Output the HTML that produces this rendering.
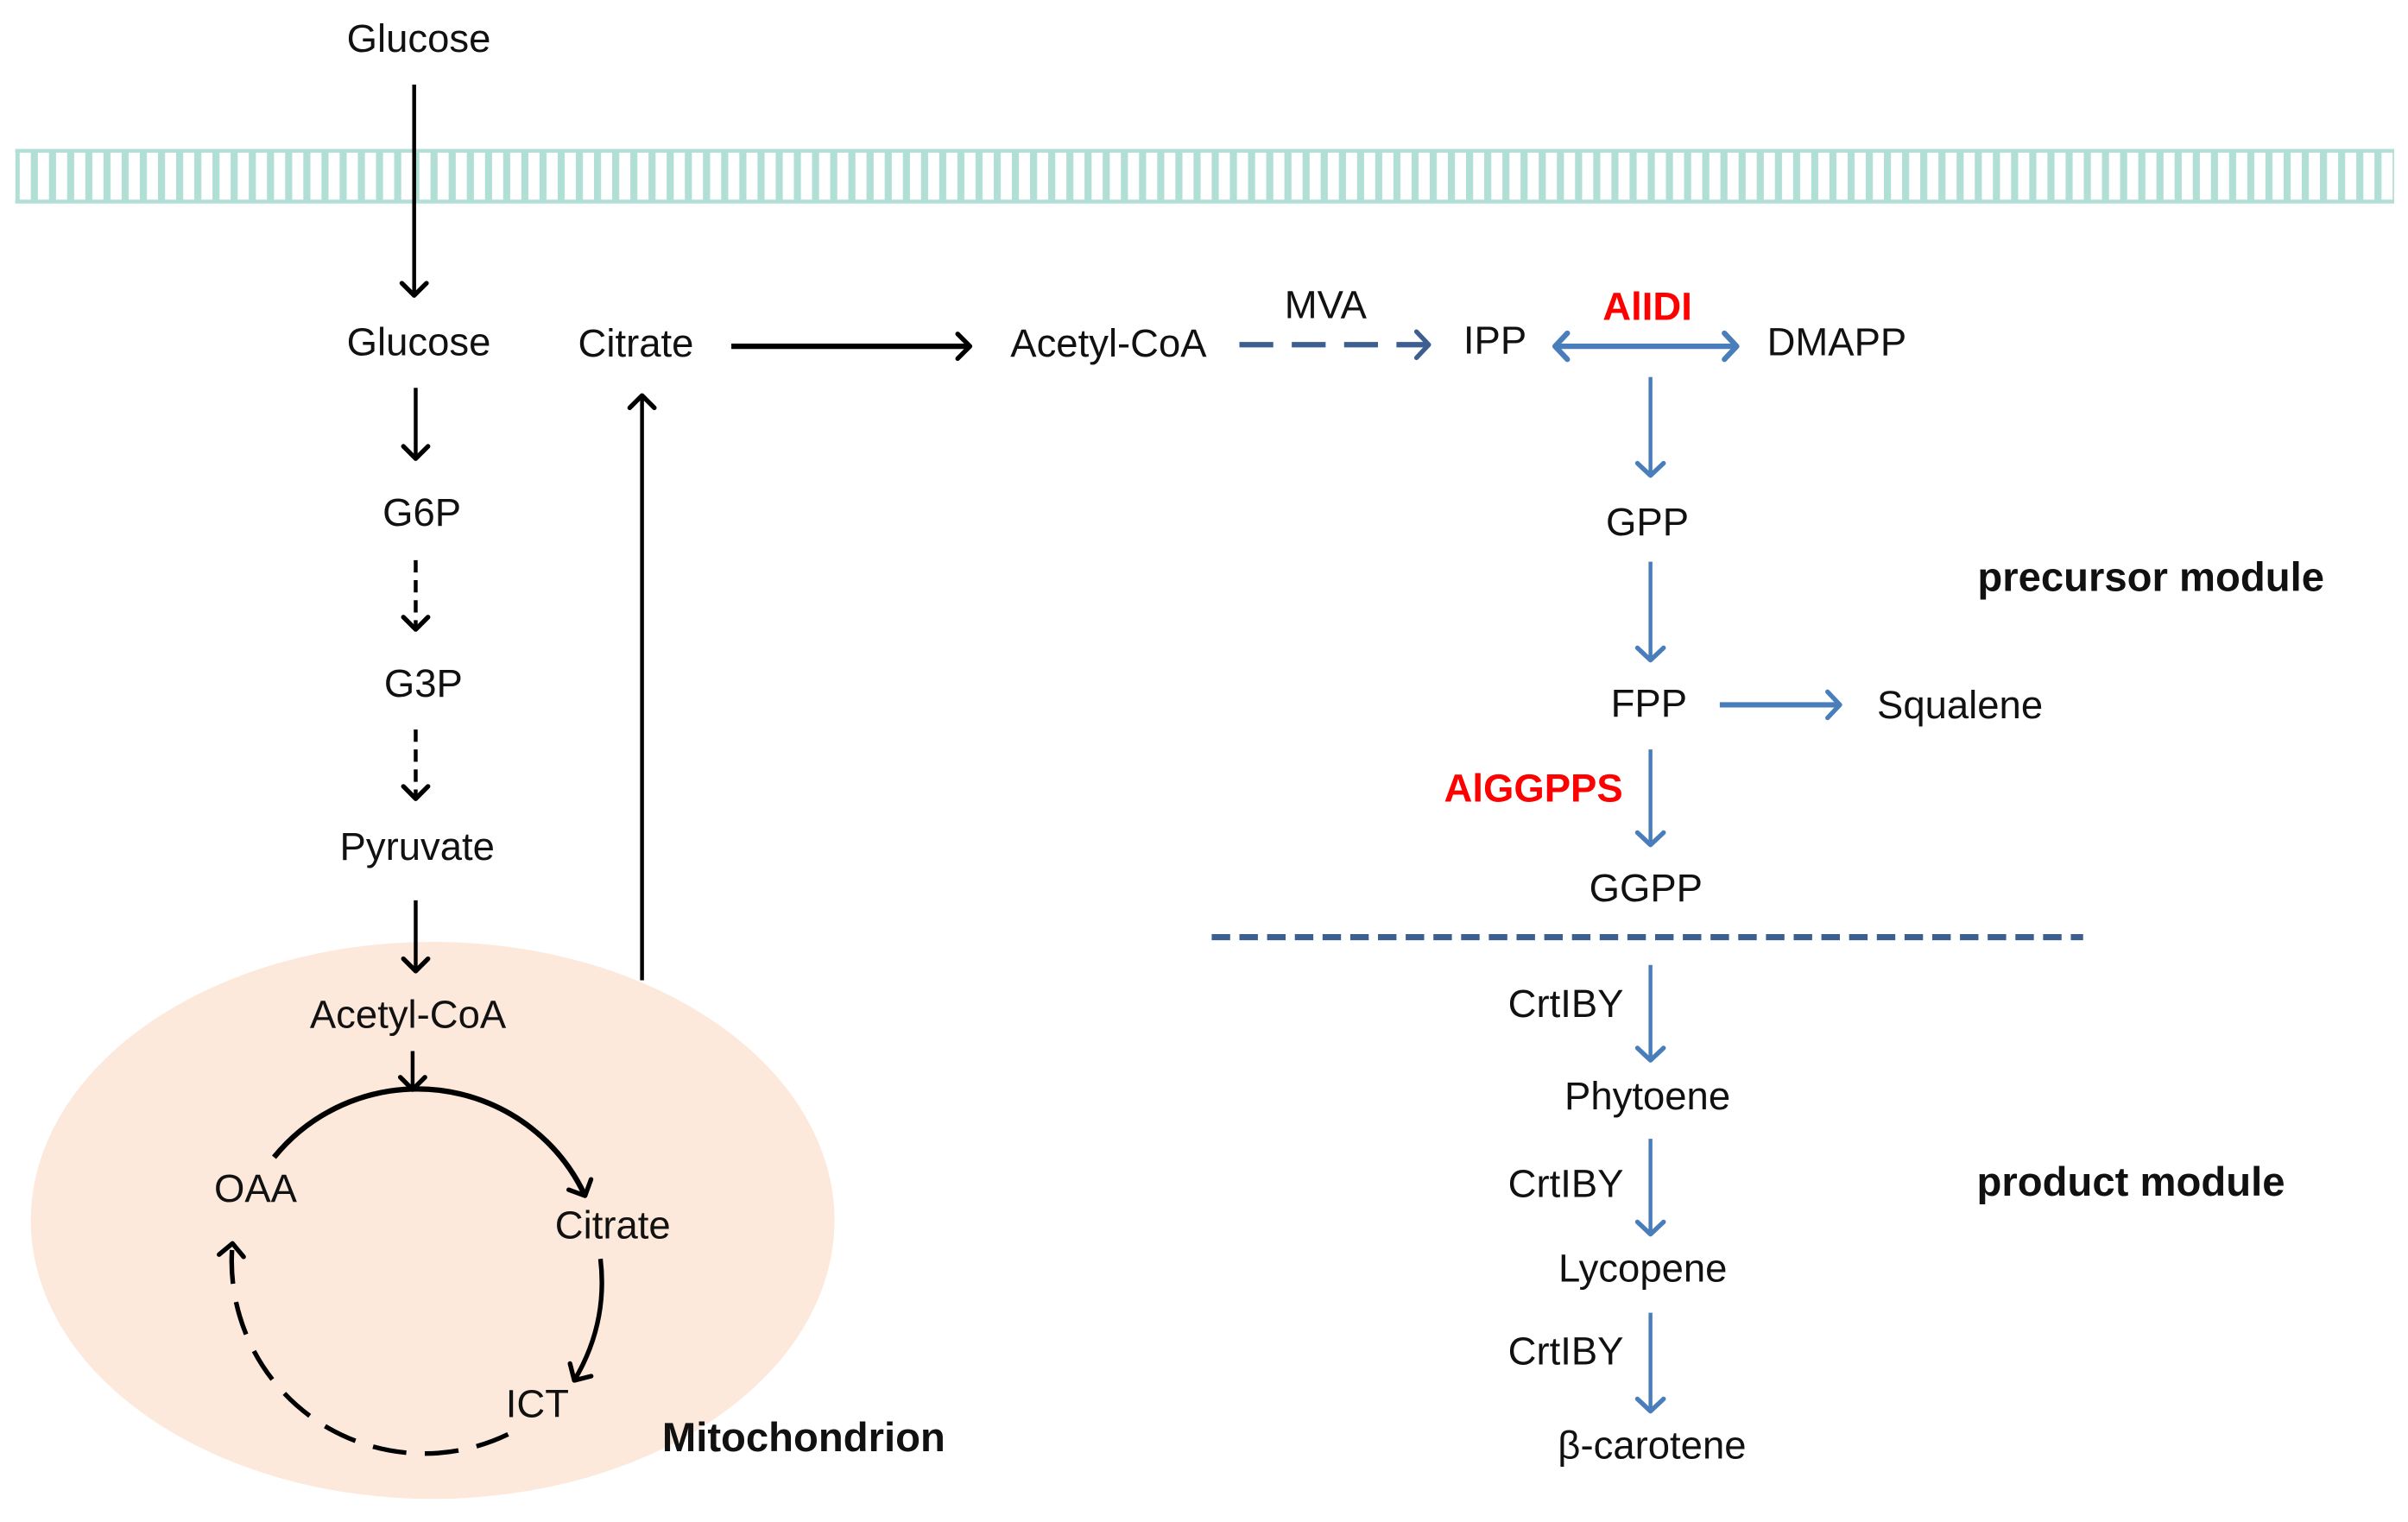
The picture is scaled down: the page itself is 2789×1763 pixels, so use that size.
<!DOCTYPE html>
<html><head><meta charset="utf-8"><style>
html,body{margin:0;padding:0;background:#fff;}
svg{display:block;}
text{font-family:"Liberation Sans",Arial,sans-serif;font-size:25.5px;text-anchor:middle;dominant-baseline:middle;fill:#111;}
.b{font-weight:bold;font-size:26.5px;}
.r{fill:#f00;font-weight:bold;}
</style></head><body>
<svg width="2789" height="1763" viewBox="0 0 1564 989" preserveAspectRatio="none" xmlns="http://www.w3.org/2000/svg">
<defs>
<pattern id="st" x="20" y="0" width="11.8" height="10" patternUnits="userSpaceOnUse">
<rect x="0" y="0" width="4.6" height="10" fill="#b2dfd5"/>
</pattern>
<marker id="ak" markerUnits="userSpaceOnUse" markerWidth="24" markerHeight="24" refX="12" refY="12" orient="auto" viewBox="0 0 24 24">
<path d="M4,4 L12,12 L4,20" fill="none" stroke="#000" stroke-width="3" stroke-linecap="round" stroke-linejoin="round"/>
</marker>
<marker id="ab" markerUnits="userSpaceOnUse" markerWidth="24" markerHeight="24" refX="12" refY="12" orient="auto" viewBox="0 0 24 24">
<path d="M4,3.5 L12,12 L4,20.5" fill="none" stroke="#4a7ebb" stroke-width="3" stroke-linecap="round" stroke-linejoin="round"/>
</marker>
<marker id="ab2" markerUnits="userSpaceOnUse" markerWidth="24" markerHeight="24" refX="12" refY="12" orient="auto-start-reverse" viewBox="0 0 24 24">
<path d="M4,3.5 L12,12 L4,20.5" fill="none" stroke="#4a7ebb" stroke-width="3.5" stroke-linecap="round" stroke-linejoin="round"/>
</marker>
<marker id="ad" markerUnits="userSpaceOnUse" markerWidth="24" markerHeight="24" refX="12" refY="12" orient="auto" viewBox="0 0 24 24">
<path d="M4,3.5 L12,12 L4,20.5" fill="none" stroke="#3d5f8f" stroke-width="3" stroke-linecap="round" stroke-linejoin="round"/>
</marker>
</defs>

<rect x="10" y="97" width="1545" height="35" fill="url(#st)"/>
<line x1="10" y1="98" x2="1555" y2="98" stroke="#b2dfd5" stroke-width="2.5"/>
<line x1="10" y1="131" x2="1555" y2="131" stroke="#b2dfd5" stroke-width="2.5"/>

<ellipse cx="281" cy="793" rx="261" ry="181" fill="#fde9db"/>

<text x="272" y="27">Glucose</text>
<line x1="269" y1="55" x2="269" y2="192" stroke="#000" stroke-width="2.5" marker-end="url(#ak)"/>
<text x="272" y="224">Glucose</text>
<text x="413" y="225">Citrate</text>
<line x1="475" y1="225" x2="630" y2="225" stroke="#000" stroke-width="3.5" marker-end="url(#ak)"/>
<text x="720" y="225">Acetyl-CoA</text>
<line x1="270" y1="252" x2="270" y2="298" stroke="#000" stroke-width="2.5" marker-end="url(#ak)"/>
<text x="274" y="335">G6P</text>
<line x1="270" y1="364" x2="270" y2="409" stroke="#000" stroke-width="2.5" stroke-dasharray="8,5" marker-end="url(#ak)"/>
<text x="275" y="446">G3P</text>
<line x1="270" y1="474" x2="270" y2="519" stroke="#000" stroke-width="2.5" stroke-dasharray="8,5" marker-end="url(#ak)"/>
<text x="271" y="552">Pyruvate</text>
<line x1="270" y1="585" x2="270" y2="631" stroke="#000" stroke-width="2.5" marker-end="url(#ak)"/>
<line x1="417" y1="637" x2="417" y2="257" stroke="#000" stroke-width="2.5" marker-end="url(#ak)"/>

<text x="265" y="661">Acetyl-CoA</text>
<line x1="268" y1="683" x2="268" y2="708" stroke="#000" stroke-width="2.5" marker-end="url(#ak)"/>
<path d="M178,752 A120,120 0 0 1 380,777" fill="none" stroke="#000" stroke-width="3.5" marker-end="url(#ak)"/>
<text x="166" y="774">OAA</text>
<text x="398" y="798">Citrate</text>
<path d="M390,818 Q395,860 373,897" fill="none" stroke="#000" stroke-width="3" marker-end="url(#ak)"/>
<text x="349" y="914">ICT</text>
<path d="M330,932 A125,125 0 0 1 151,808" fill="none" stroke="#000" stroke-width="3" stroke-dasharray="22,12" marker-end="url(#ak)"/>
<text x="522" y="936" class="b">Mitochondrion</text>

<text x="861" y="200">MVA</text>
<line x1="805" y1="224" x2="928" y2="224" stroke="#3d5f8f" stroke-width="3.5" stroke-dasharray="22,12" marker-end="url(#ad)"/>
<text x="971" y="223">IPP</text>
<text x="1070" y="201" class="r">AlIDI</text>
<line x1="1010" y1="225" x2="1128" y2="225" stroke="#4a7ebb" stroke-width="3.5" marker-start="url(#ab2)" marker-end="url(#ab2)"/>
<text x="1193" y="224">DMAPP</text>
<line x1="1072" y1="245" x2="1072" y2="309" stroke="#4a7ebb" stroke-width="2.5" marker-end="url(#ab)"/>
<text x="1070" y="341">GPP</text>
<line x1="1072" y1="365" x2="1072" y2="429" stroke="#4a7ebb" stroke-width="2.5" marker-end="url(#ab)"/>
<text x="1397" y="377" class="b">precursor module</text>
<text x="1071" y="459">FPP</text>
<line x1="1117" y1="458" x2="1195" y2="458" stroke="#4a7ebb" stroke-width="3.5" marker-end="url(#ab)"/>
<text x="1273" y="460">Squalene</text>
<line x1="1072" y1="487" x2="1072" y2="549" stroke="#4a7ebb" stroke-width="2.5" marker-end="url(#ab)"/>
<text x="996" y="514" class="r">AlGGPPS</text>
<text x="1069" y="579">GGPP</text>
<line x1="787" y1="609" x2="1353" y2="609" stroke="#3d5f8f" stroke-width="4" stroke-dasharray="12,6"/>

<text x="1017" y="654">CrtIBY</text>
<line x1="1072" y1="627" x2="1072" y2="689" stroke="#4a7ebb" stroke-width="2.5" marker-end="url(#ab)"/>
<text x="1070" y="714">Phytoene</text>
<text x="1017" y="771">CrtIBY</text>
<line x1="1072" y1="740" x2="1072" y2="802" stroke="#4a7ebb" stroke-width="2.5" marker-end="url(#ab)"/>
<text x="1384" y="770" class="b">product module</text>
<text x="1067" y="826">Lycopene</text>
<text x="1017" y="880">CrtIBY</text>
<line x1="1072" y1="853" x2="1072" y2="917" stroke="#4a7ebb" stroke-width="2.5" marker-end="url(#ab)"/>
<text x="1073" y="941">β-carotene</text>
</svg>
</body></html>
